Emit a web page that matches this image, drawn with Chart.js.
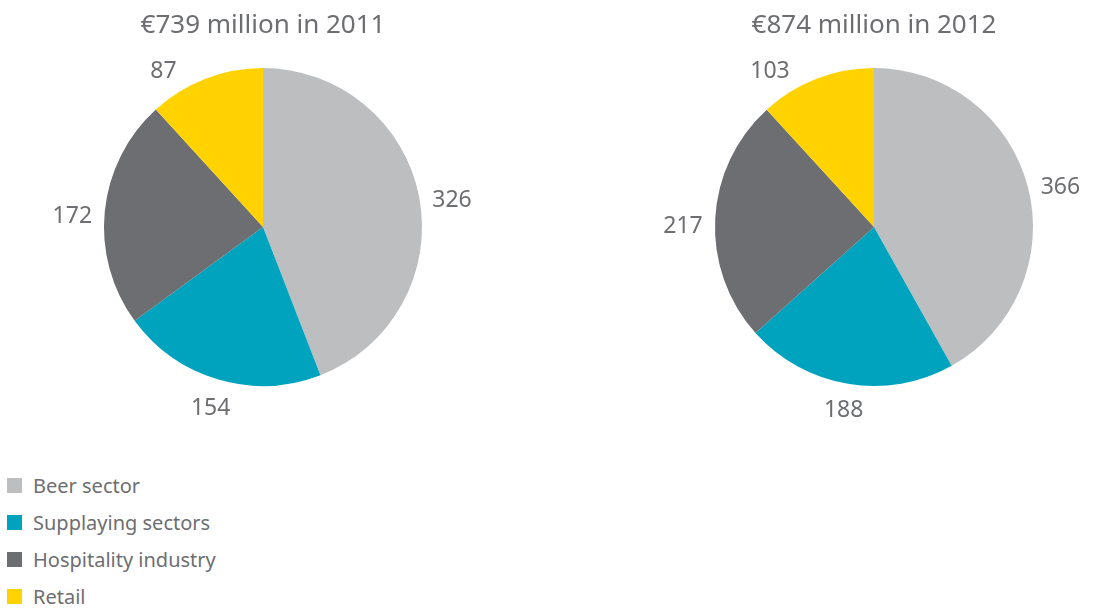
<!DOCTYPE html>
<html>
<head>
<meta charset="utf-8">
<script src="https://cdn.jsdelivr.net/npm/chart.js@4"></script>
<style>
  body { margin: 0; background: #fff; width: 1094px; height: 615px; overflow: hidden; position: relative; font-family: "Noto Sans", sans-serif; color: #6d6e71; }
  .pie { position: absolute; top: 0; width: 547px; height: 460px; }
  #legend { position: absolute; left: 7px; top: 467px; }
  #legend div { height: 37px; display: flex; align-items: center; font-size: 20px; }
  #legend span.sw { width: 15px; height: 15px; margin-right: 11px; display: inline-block; }
</style>
</head>
<body>
<div class="pie" style="left:0"><canvas id="pie2011"></canvas></div>
<div class="pie" style="left:611px"><canvas id="pie2012"></canvas></div>
<div id="legend"></div>
<script>
  'use strict'

  var categories = ['Beer sector', 'Supplaying sectors', 'Hospitality industry', 'Retail'];
  var values2011 = [326, 154, 172, 87];
  var values2012 = [366, 188, 217, 103];
  var titles = ['€739 million in 2011', '€874 million in 2012'];
  var colors = ['#bcbec0', '#00a3be', '#6d6e71', '#ffd200'];
  var textColor = '#6d6e71';

  // labels outside slices + title above pie
  var outsideLabels = {
    id: 'outsideLabels',
    afterDraw: function (chart) {
      var ctx = chart.ctx;
      var meta = chart.getDatasetMeta(0);
      var data = chart.data.datasets[0].data;
      var a = chart.chartArea;
      ctx.save();
      ctx.fillStyle = textColor;
      ctx.textAlign = 'center';
      ctx.textBaseline = 'middle';
      ctx.font = '23px "Noto Sans"';
      meta.data.forEach(function (arc, i) {
        var mid = (arc.startAngle + arc.endAngle) / 2;
        var txt = String(data[i]);
        var w = ctx.measureText(txt).width;
        var c = Math.cos(mid), s = Math.sin(mid);
        var d = arc.outerRadius + 12 + Math.abs(c) * w / 2 + Math.abs(s) * 10;
        var x = arc.x + c * d, y = arc.y + s * d + 9 * Math.abs(c);
        // keep labels below the title: slide along the same distance
        if (y < a.top + 3) {
          var dy = a.top + 3 - arc.y;
          var dx = Math.sqrt(d * d - dy * dy);
          x = arc.x + (c < 0 ? -dx : dx);
          y = a.top + 3;
        }
        ctx.fillText(txt, x, y);
      });
      ctx.font = '26px "Noto Sans"';
      ctx.fillText(chart.options.plugins.pieTitle, (a.left + a.right) / 2, a.top - 42);
      ctx.restore();
    }
  };

  function makePie(id, values, title) {
    return new Chart(document.getElementById(id), {
      type: 'pie',
      data: {
        labels: categories,
        datasets: [{ data: values, backgroundColor: colors, borderWidth: 0 }]
      },
      options: {
        responsive: true,
        maintainAspectRatio: false,
        animation: false,
        layout: { padding: { left: 104, right: 125, top: 68, bottom: 74 } },
        plugins: { legend: { display: false }, tooltip: { enabled: false }, pieTitle: title }
      },
      plugins: [outsideLabels]
    });
  }

  makePie('pie2011', values2011, titles[0]);
  makePie('pie2012', values2012, titles[1]);

  var legend = document.getElementById('legend');
  categories.forEach(function (c, i) {
    var row = document.createElement('div');
    row.innerHTML = '<span class="sw" style="background:' + colors[i] + '"></span>' + c;
    legend.appendChild(row);
  });
</script>
</body>
</html>
